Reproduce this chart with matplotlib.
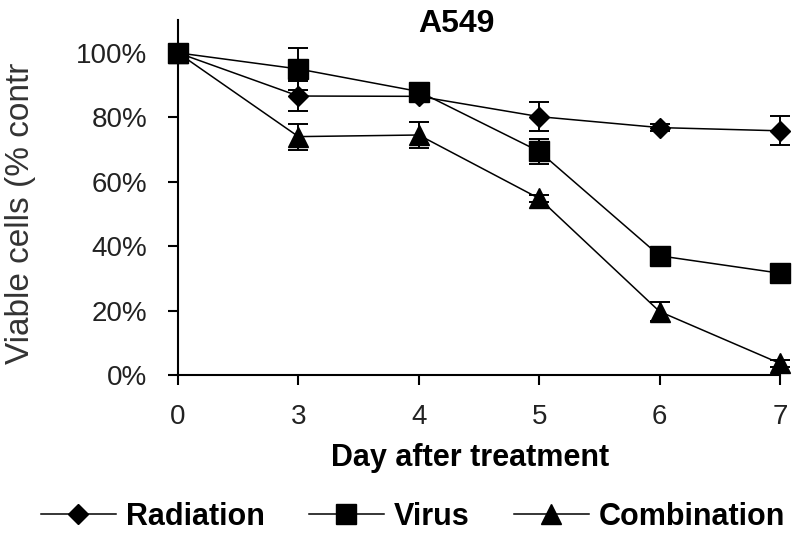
import matplotlib
matplotlib.use("Agg")
import matplotlib.pyplot as plt
from matplotlib.ticker import FuncFormatter

days = ["0", "3", "4", "5", "6", "7"]
radiation = [100, 86.6, 86.5, 80.2, 76.8, 75.8]
radiation_err = [0, 4.7, 1.0, 4.5, 1.0, 4.5]
virus = [100, 95.0, 88.0, 69.4, 37.0, 31.6]
virus_err = [0, 6.5, 2.0, 4.0, 1.0, 1.0]
combination = [100, 74.0, 74.5, 54.8, 19.7, 3.6]
combination_err = [0, 4.0, 4.0, 1.0, 3.0, 1.0]
yticks = [0, 20, 40, 60, 80, 100]

plt.rcParams['font.family'] = ['Liberation Sans', 'DejaVu Sans']

W, H = 800, 539
fig = plt.figure(figsize=(W / 100, H / 100), dpi=100)
ax = fig.add_axes([178 / W, 1 - 375 / H, (780 - 178) / W, (375 - 20) / H])

x = list(range(len(days)))
series = [
    ("Radiation", radiation, radiation_err, "D", 10),
    ("Virus", virus, virus_err, "s", 14),
    ("Combination", combination, combination_err, "^", 15),
]
handles = []
for i, (name, vals, errs, mk, ms) in enumerate(series):
    c = ax.errorbar(x, vals, yerr=errs, color="black", marker=mk, markersize=ms,
                    linewidth=1.1, elinewidth=1.4, capsize=7, capthick=1.4,
                    label=name, zorder=3 + i, clip_on=False)
    handles.append(c[0])

ax.set_xlim(0, 5)
ax.set_ylim(0, 110.2)
ax.set_xticks(x)
ax.set_xticklabels(days)
ax.set_yticks(yticks)
ax.yaxis.set_major_formatter(FuncFormatter(lambda v, p: f"{int(v)}%"))
for s in ["top", "right"]:
    ax.spines[s].set_visible(False)
for s in ["left", "bottom"]:
    ax.spines[s].set_linewidth(1.5)
ax.tick_params(axis="both", direction="out", length=7, width=1.5,
               labelsize=20, colors="black", labelcolor="#222222")
ax.tick_params(axis="x", pad=14)
ax.tick_params(axis="y", pad=15)

fig.text(456 / W, 1 - 24 / H, "A549", fontsize=23, fontweight="bold",
         ha="center", va="center")
fig.text(470 / W, 1 - 466 / H, "Day after treatment", fontsize=22,
         fontweight="bold", ha="center", va="baseline")
fig.text(21 / W, 1 - 213 / H, "Viable cells (% contr", rotation=90, fontsize=24,
         color="#333333", ha="center", va="center")

leg = fig.legend(handles=handles, labels=[s[0] for s in series], loc="center",
                 bbox_to_anchor=(413 / W, 1 - 517 / H), ncol=3,
                 frameon=False, fontsize=22, handlelength=2.45,
                 columnspacing=1.45, handletextpad=0.33, borderpad=0)
for t in leg.get_texts():
    t.set_fontweight("bold")

fig.savefig("out.png", dpi=100)
